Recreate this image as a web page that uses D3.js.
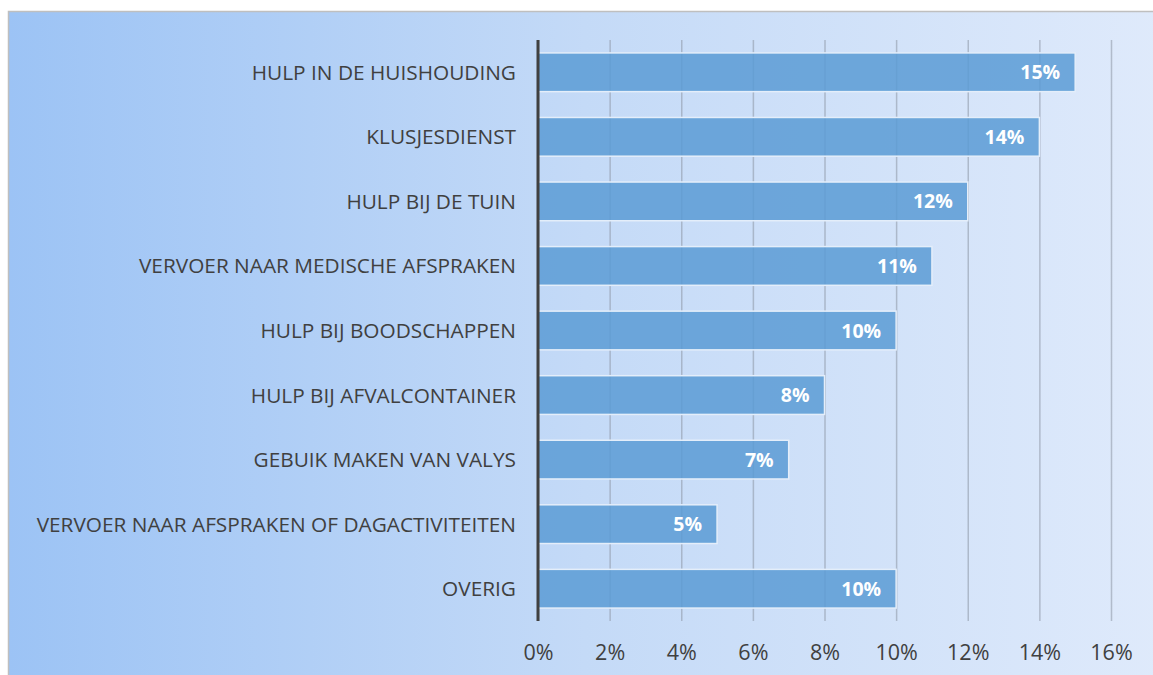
<!DOCTYPE html>
<meta charset="utf-8">
<html>
<head>
    <script src="https://d3js.org/d3.v7.min.js"></script>
</head>
<style>
    body { margin: 0; background: white; }
    .cat { font: 20.8px "Open Sans"; fill: #404040; }
    .tick text { font: 21.5px "Open Sans"; fill: #404040; }
    .val { font: bold 19.5px "Open Sans"; fill: white; }
</style>
<body>
<div id="chartsdiv"></div>
<script>

// data
const categories = ["HULP IN DE HUISHOUDING", "KLUSJESDIENST", "HULP BIJ DE TUIN ",
    "VERVOER NAAR MEDISCHE AFSPRAKEN", "HULP BIJ BOODSCHAPPEN", "HULP BIJ AFVALCONTAINER",
    "GEBUIK MAKEN VAN VALYS", "VERVOER NAAR AFSPRAKEN OF DAGACTIVITEITEN", "OVERIG"]
const values = [15, 14, 12, 11, 10, 8, 7, 5, 10]
const tickValues = [0, 2, 4, 6, 8, 10, 12, 14, 16]

const W = 1153, H = 675;
var plotLeft = 538, plotRight = 1111;
var plotTop = 40, plotBottom = 621;

const svg = d3.select("#chartsdiv")
    .append("svg")
    .attr("width", W)
    .attr("height", H);

// background gradient
var grad = svg.append("defs").append("linearGradient")
    .attr("id", "bg")
    .attr("x1", "0").attr("x2", "1").attr("y1", "0").attr("y2", "0");
grad.append("stop").attr("offset", "0").attr("stop-color", "#9cc3f5");
grad.append("stop").attr("offset", "0.5").attr("stop-color", "#c4daf7");
grad.append("stop").attr("offset", "1").attr("stop-color", "#dfeafb");

svg.append("rect")
    .attr("x", 8.5).attr("y", 11.5)
    .attr("width", W).attr("height", H)
    .attr("fill", "url(#bg)")
    .attr("stroke", "#bfbfbf")
    .attr("stroke-width", 1.5);

// scales
var x = d3.scaleLinear()
    .domain([0, 16])
    .range([plotLeft, plotRight]);

var y = d3.scaleBand()
    .domain(categories)
    .range([plotTop, plotBottom])
    .paddingInner(0.4)
    .paddingOuter(0.2);

// gridlines + tick labels
var axisX = svg.append("g")
    .attr("transform", "translate(0," + plotTop + ")")
    .call(d3.axisBottom(x)
        .tickValues(tickValues)
        .tickSize(plotBottom - plotTop)
        .tickFormat(d => d + "%"));
axisX.select(".domain").remove();
axisX.selectAll(".tick line")
    .attr("stroke", "#8c96a4")
    .attr("stroke-opacity", 0.55)
    .attr("stroke-width", 1.5);
axisX.selectAll(".tick text")
    .attr("y", plotBottom - plotTop + 39)
    .attr("dy", 0);

// bars
svg.selectAll(".bar")
    .data(values)
    .enter()
    .append("rect")
    .attr("class", "bar")
    .attr("x", x(0))
    .attr("y", (d, i) => y(categories[i]))
    .attr("width", d => x(d) - x(0))
    .attr("height", y.bandwidth())
    .attr("fill", "#5b9bd5")
    .attr("fill-opacity", 0.85)
    .attr("stroke", "#e4eefa")
    .attr("stroke-width", 1.5);

// value labels
svg.selectAll(".val")
    .data(values)
    .enter()
    .append("text")
    .attr("class", "val")
    .attr("x", d => x(d) - 15)
    .attr("y", (d, i) => y(categories[i]) + y.bandwidth() / 2)
    .attr("dy", "0.36em")
    .attr("text-anchor", "end")
    .text(d => d + "%");

// category labels
svg.selectAll(".cat")
    .data(categories)
    .enter()
    .append("text")
    .attr("class", "cat")
    .attr("x", plotLeft - 22)
    .attr("y", d => y(d) + y.bandwidth() / 2)
    .attr("dy", "0.36em")
    .attr("text-anchor", "end")
    .text(d => d);

// vertical axis line
svg.append("line")
    .attr("x1", x(0)).attr("x2", x(0))
    .attr("y1", plotTop).attr("y2", plotBottom)
    .attr("stroke", "#404040")
    .attr("stroke-width", 3);

</script>
</body>
</html>
